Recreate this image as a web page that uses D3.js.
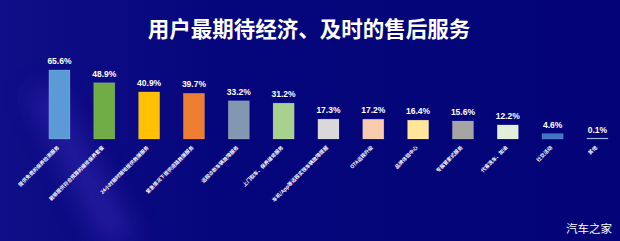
<!DOCTYPE html>
<html>
<head>
<meta charset="utf-8">
<script src="https://cdn.jsdelivr.net/npm/d3@7"></script>
<style>
  html, body { margin: 0; padding: 0; background: #06067a; }
  #chart { width: 620px; height: 241px; }
</style>
</head>
<body>
<div id="chart"></div>
<script>
// Chart data
const title = '用户最期待经济、及时的售后服务';
const categories = [
  '提供免费的保养检测服务',
  '能够提供符合预算的维修保养套餐',
  '24小时随时随地提供救援服务',
  '紧急情况下提供道路救援服务',
  '远程诊断车辆故障服务',
  '上门取车、保养维修服务',
  '车机/App等远程实现车辆故障提醒',
  'OTA远程升级',
  '品牌体验中心',
  '专属管家式服务',
  '代客洗车、加油',
  '社交活动',
  '其他'
];
const values = [65.6, 48.9, 40.9, 39.7, 33.2, 31.2, 17.3, 17.2, 16.4, 15.6, 12.2, 4.6, 0.1];
const colors = ['#5b9bd5', '#70ad47', '#ffc000', '#ed7d31', '#8497b0', '#a9d18e', '#d9d9d9',
  '#f8cbad', '#ffe699', '#a5a5a5', '#e2efda', '#4472c4', '#8fa9dc'];

const width = 620, height = 241;
const svg = d3.select('#chart').append('svg')
  .attr('width', width)
  .attr('height', height)
  .attr('viewBox', `0 0 ${width} ${height}`);

// Background
const defs = svg.append('defs');
const bg = defs.append('linearGradient').attr('id', 'bg')
  .attr('x1', '0').attr('y1', '0').attr('x2', '1').attr('y2', '0');
bg.append('stop').attr('offset', '0').attr('stop-color', '#100e88');
bg.append('stop').attr('offset', '0.35').attr('stop-color', '#06067c');
bg.append('stop').attr('offset', '1').attr('stop-color', '#040478');
svg.append('rect').attr('width', width).attr('height', height).attr('fill', 'url(#bg)');

const blur = defs.append('filter').attr('id', 'blur')
  .attr('x', '-50%').attr('y', '-50%').attr('width', '200%').attr('height', '200%');
blur.append('feGaussianBlur').attr('stdDeviation', 12);
svg.append('path')
  .attr('d', 'M25,90 L55,90 L140,241 L100,241 Z')
  .attr('fill', '#3a2cb8')
  .attr('opacity', 0.5)
  .attr('filter', 'url(#blur)');

// Title
svg.append('text')
  .attr('x', 309)
  .attr('y', 37)
  .attr('text-anchor', 'middle')
  .attr('fill', '#ffffff')
  .attr('font-family', '"Noto Sans CJK SC", sans-serif')
  .attr('font-weight', 'bold')
  .attr('font-size', '21.5px')
  .text(title);

// Scales
const x = d3.scaleBand()
  .domain(categories)
  .range([26.5, 630.4])
  .paddingInner(0.53)
  .paddingOuter(0.5);
const y = d3.scaleLinear()
  .domain([0, 60])
  .range([139, 70])
  .clamp(true);

const data = categories.map((c, i) => ({ label: c, value: values[i], color: colors[i] }));
const g = svg.append('g');

// Bars
g.selectAll('.bar')
  .data(data)
  .enter()
  .append('rect')
  .attr('class', 'bar')
  .attr('x', d => x(d.label))
  .attr('y', d => Math.min(y(d.value), 138))
  .attr('width', x.bandwidth())
  .attr('height', d => Math.max(139 - y(d.value), 1))
  .attr('fill', d => d.color)
  .attr('stroke', 'rgba(255,255,255,0.25)')
  .attr('stroke-width', 0.6);

// Value labels
g.selectAll('.value')
  .data(data)
  .enter()
  .append('text')
  .attr('class', 'value')
  .attr('x', d => x(d.label) + x.bandwidth() / 2)
  .attr('y', d => y(d.value) - 6)
  .attr('text-anchor', 'middle')
  .attr('fill', '#ffffff')
  .attr('font-family', '"Liberation Sans", Arial, sans-serif')
  .attr('font-weight', 'bold')
  .attr('font-size', '8.5px')
  .text(d => d.value.toFixed(1) + '%');

// Category labels, rotated
g.selectAll('.cat')
  .data(data)
  .enter()
  .append('text')
  .attr('class', 'cat')
  .attr('transform', d => `translate(${x(d.label) + x.bandwidth() / 2},${148}) rotate(-45)`)
  .attr('text-anchor', 'end')
  .attr('fill', '#ffffff')
  .attr('font-family', '"Noto Sans CJK SC", sans-serif')
  .attr('font-weight', 'bold')
  .attr('font-size', '5px')
  .text(d => d.label);

// Watermark
svg.append('text')
  .attr('x', 612)
  .attr('y', 233)
  .attr('text-anchor', 'end')
  .attr('fill', '#ffffff')
  .attr('font-family', '"Noto Sans CJK SC", sans-serif')
  .attr('font-size', '11.5px')
  .text('汽车之家');
</script>
</body>
</html>
